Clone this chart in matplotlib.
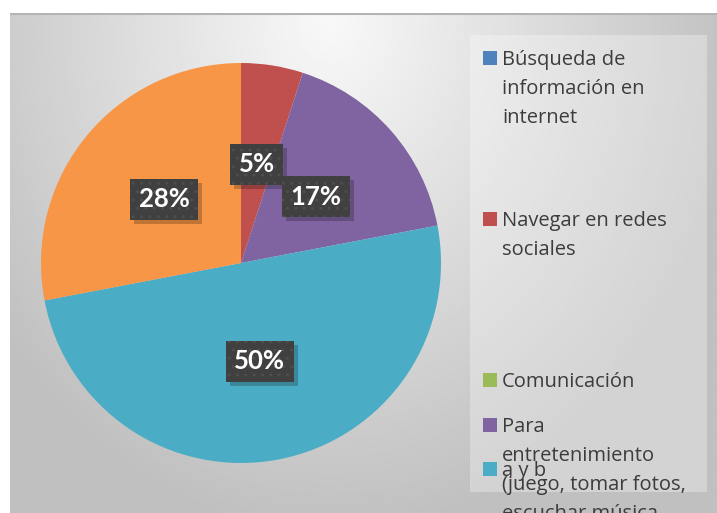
import numpy as np
import matplotlib.pyplot as plt
from matplotlib.patches import Rectangle

# slice data (clockwise from 12 o'clock)
labels = ['Búsqueda de\ninformación en\ninternet',
          'Navegar en redes\nsociales',
          'Comunicación',
          'Para\nentretenimiento\n(juego, tomar fotos,\nescuchar música',
          'a y b',
          'Otros']
values = [0, 5, 0, 17, 50, 28]
colors = ['#4F81BD', '#C0504D', '#9BBB59', '#8064A2', '#4BACC6', '#F79646']

W, H = 717, 513
fig = plt.figure(figsize=(W / 100, H / 100), dpi=100)
plt.rcParams['font.family'] = ['Open Sans', 'DejaVu Sans']


def fx(px):
    return px / W


def fy(py):
    return 1 - py / H


# gradient chart background
bg = fig.add_axes([fx(10), 0, fx(W - 10), fy(13)])
gx, gy = np.meshgrid(np.linspace(10, W, 300), np.linspace(13, H, 220))
r = np.sqrt(((gx - 330) / 420) ** 2 + ((gy - 20) / 520) ** 2)
shade = 0.975 - (0.975 - 0.75) * np.clip(r, 0, 1)
bg.imshow(shade, cmap='gray', vmin=0, vmax=1, aspect='auto',
          extent=[10, W, H, 13])
bg.set_xlim(10, W)
bg.set_ylim(H, 13)
bg.axis('off')
bg.axhline(13.5, color='#b4b4b4', lw=1.5)

# legend panel
fig.patches.append(Rectangle((fx(470), fy(492)), fx(237), fy(35) - fy(492),
                             transform=fig.transFigure, facecolor='white',
                             alpha=0.3, edgecolor='none', zorder=1))

# pie
ax = fig.add_axes([fx(41), fy(463), fx(400), fy(63) - fy(463)])
ax.set_zorder(2)


def pct(p):
    return f'{p:.0f}%' if p > 0.5 else ''


wedges, texts, autotexts = ax.pie(values, colors=colors, startangle=90,
                                  counterclock=False, autopct=pct,
                                  pctdistance=0.5,
                                  wedgeprops=dict(linewidth=0))
ax.set_xlim(-1, 1)
ax.set_ylim(-1, 1)
ax.set_aspect('equal')

shown = [t for t in autotexts if t.get_text()]
for t in shown:
    t.set_fontsize(18.5)
    t.set_fontfamily(['Lato', 'DejaVu Sans'])
    t.set_fontweight('bold')
    t.set_color('white')
    t.set_bbox(dict(boxstyle='square,pad=0.33', facecolor='none',
                    edgecolor='none', linewidth=0))

# label boxes: drop shadow + dotted dark fill, text redrawn on top
fig.canvas.draw()
for t in shown:
    bb = t.get_bbox_patch().get_window_extent()
    cx, cy = fig.transFigure.inverted().transform(
        t.get_window_extent().get_points().mean(axis=0))
    txt = t.get_text()
    t.remove()
    fig.patches.append(Rectangle((bb.x0 + 4, bb.y0 - 4), bb.width, bb.height,
                                 transform=None, facecolor='black',
                                 alpha=0.22, edgecolor='none', zorder=2.5))
    fig.patches.append(Rectangle((bb.x0, bb.y0), bb.width, bb.height,
                                 transform=None, facecolor='#404040',
                                 edgecolor='#4e4e4e', linewidth=0, hatch='..',
                                 zorder=2.6))
    fig.text(cx, cy, txt, fontsize=18.5, fontfamily=['Lato', 'DejaVu Sans'],
             fontweight='bold', color='white', ha='center', va='center',
             zorder=3)

# manual legend (entries overlap as in the source)
entry_top = [51, 212, 373, 418, 462]
for lab, col, top in zip(labels, colors, entry_top):
    fig.patches.append(Rectangle((fx(483), fy(top + 14)), fx(14), fy(top) - fy(top + 14),
                                 transform=fig.transFigure, facecolor=col,
                                 edgecolor='none', zorder=3))
    for i, line in enumerate(lab.split('\n')):
        fig.text(fx(502), fy(top + 14 + 29 * i), line, fontsize=14.5,
                 color='#3c3c3c', ha='left', va='baseline', zorder=4)

fig.savefig('out.png', dpi=100)
